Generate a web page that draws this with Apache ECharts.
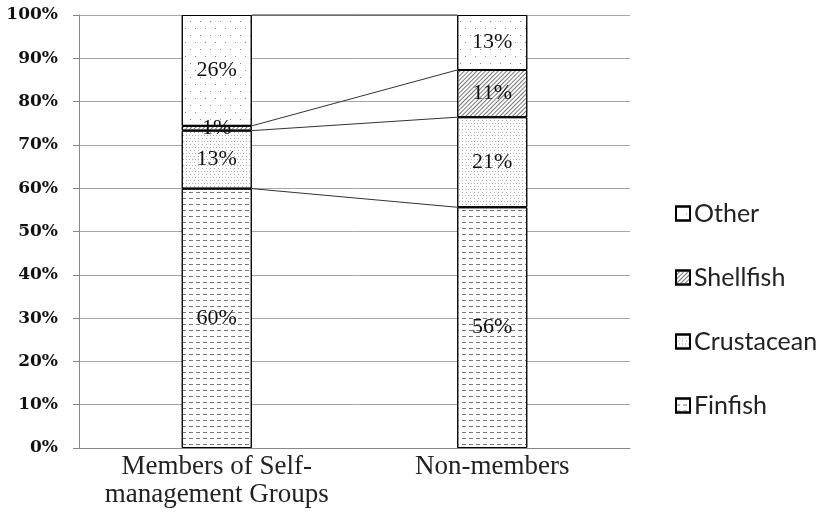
<!DOCTYPE html>
<html>
<head>
<meta charset="utf-8">
<script src="https://cdn.jsdelivr.net/npm/echarts@6/dist/echarts.min.js"></script>
<style>
  html, body { margin: 0; padding: 0; background: #fff; }
  #main { width: 823px; height: 514px; }
</style>
</head>
<body>
<div id="main"></div>
<script>
// categories and shares (percent)
var categories = ['Members of Self-\nmanagement Groups', 'Non-members'];
var finfish    = [59.9, 55.6];
var crustacean = [13.4, 20.8];
var shellfish  = [1.1, 10.9];
var other      = [25.6, 12.7];
var yTicks     = [0, 10, 20, 30, 40, 50, 60, 70, 80, 90, 100];

var BAR_W = 70;

// cumulative tops of each segment, used for the series lines
var layers = [finfish, crustacean, shellfish, other];
var cum = [0, 0];
var joins = [];
layers.forEach(function (arr) {
    cum = [cum[0] + arr[0], cum[1] + arr[1]];
    joins.push([0, cum[0], 1, cum[1]]);
});

function barSeries(name, data, decal) {
    return {
        name: name,
        type: 'bar',
        stack: 'total',
        barWidth: BAR_W,
        data: data,
        itemStyle: {
            color: '#fff',
            borderColor: '#000',
            borderWidth: 1,
            decal: decal
        },
        label: {
            show: true,
            position: 'inside',
            color: '#111',
            fontFamily: 'Liberation Serif',
            fontSize: 22,
            formatter: function (p) { return Math.round(p.value) + '%'; }
        }
    };
}

var chart = echarts.init(document.getElementById('main'));
chart.setOption({
    backgroundColor: '#fff',
    animation: false,
    aria: { enabled: true, decal: { show: true } },
    grid: { left: 79, right: 193, top: 15, bottom: 66 },
    legend: {
        orient: 'vertical',
        left: 670,
        top: 196,
        icon: 'rect',
        itemWidth: 14,
        itemHeight: 14,
        itemGap: 39,
        data: ['Other', 'Shellfish', 'Crustacean', 'Finfish'],
        textStyle: { fontFamily: 'Lato', fontSize: 25, color: '#222', padding: [0, 0, 0, -1] }
    },
    xAxis: {
        type: 'category',
        data: categories,
        axisLine: { lineStyle: { color: '#888' } },
        axisTick: { show: false },
        axisLabel: {
            interval: 0,
            color: '#222',
            fontFamily: 'Liberation Serif',
            fontSize: 27,
            lineHeight: 28,
            margin: 5
        }
    },
    yAxis: {
        type: 'value',
        min: 0,
        max: 100,
        interval: 10,
        axisLine: { show: true, lineStyle: { color: '#888' } },
        axisTick: { show: true, length: 6, lineStyle: { color: '#888' } },
        splitLine: { lineStyle: { color: '#a6a6a6' } },
        axisLabel: {
            color: '#111',
            fontFamily: 'DejaVu Serif',
            fontWeight: 'bold',
            fontSize: 17,
            margin: 21,
            formatter: function (v) { return yTicks.indexOf(v) >= 0 ? v + '%' : ''; }
        }
    },
    series: [
        barSeries('Finfish', finfish, {
            color: '#777', symbol: 'rect', symbolSize: 1, rotation: 0,
            dashArrayX: [4, 3], dashArrayY: [1, 5]
        }),
        barSeries('Crustacean', crustacean, {
            color: '#b0b0b0', symbol: 'rect', symbolSize: 1, rotation: 0,
            dashArrayX: [[1, 2], [0, 1.5, 1, 0.5]], dashArrayY: [1, 1.5]
        }),
        barSeries('Shellfish', shellfish, {
            color: '#777', symbol: 'rect', symbolSize: 1,
            rotation: -Math.PI / 4,
            dashArrayX: [1, 0], dashArrayY: [1, 2]
        }),
        barSeries('Other', other, {
            color: '#888', symbol: 'rect', symbolSize: 1, rotation: 0,
            dashArrayX: [[1, 9], [0, 5, 1, 4]], dashArrayY: [1, 6]
        }),
        {
            // series lines joining the segment boundaries
            type: 'custom',
            name: 'joins',
            data: joins,
            encode: { x: [0, 2], y: [1, 3] },
            z: 5,
            renderItem: function (params, api) {
                var a = api.coord([api.value(0), api.value(1)]);
                var b = api.coord([api.value(2), api.value(3)]);
                return {
                    type: 'line',
                    shape: { x1: a[0] + BAR_W / 2, y1: a[1], x2: b[0] - BAR_W / 2, y2: b[1] },
                    style: { stroke: '#333', lineWidth: 1 }
                };
            }
        }
    ]
});
</script>
</body>
</html>
